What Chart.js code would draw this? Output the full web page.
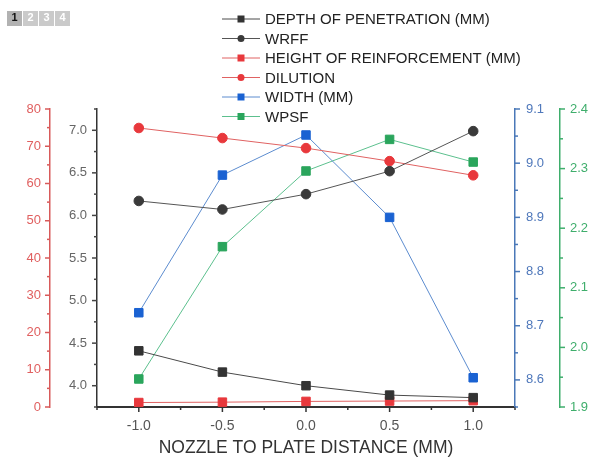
<!DOCTYPE html>
<html>
<head>
<meta charset="utf-8">
<title>Nozzle to plate distance</title>
<script src="https://cdn.jsdelivr.net/npm/chart.js@4.4.0/dist/chart.umd.min.js"></script>
<style>
  html, body { margin: 0; padding: 0; background: #fff; }
  #wrap { position: relative; width: 601px; height: 459px; }
  #pages { position: absolute; left: 7px; top: 11px; display: flex; gap: 1px; z-index: 2; }
  #pages span {
    width: 15px; height: 15px; line-height: 15px; text-align: center;
    background: #cacaca; color: #fff;
    font: bold 11px 'Liberation Sans', Arial, sans-serif;
  }
  #pages span.on { background: #b2b2b2; color: #111; }
</style>
</head>
<body>
<div id="wrap">
  <div id="pages"><span class="on">1</span><span>2</span><span>3</span><span>4</span></div>
  <canvas id="chart" width="601" height="459"></canvas>
</div>
<script>
// Nozzle to plate distance (mm)
const distances = [-1.0, -0.5, 0.0, 0.5, 1.0];

// Measured responses
const depthOfPenetration = [4.41, 4.16, 4.00, 3.89, 3.86];
const wrff = [6.17, 6.07, 6.25, 6.52, 6.99];
const heightOfReinforcement = [1.2, 1.3, 1.5, 1.6, 1.7];
const dilution = [74.9, 72.2, 69.5, 66.0, 62.2];
const beadWidth = [8.724, 8.978, 9.052, 8.900, 8.604];
const wpsf = [1.947, 2.169, 2.296, 2.349, 2.311];

// Labelled ticks for each axis
const distanceTicks = [-1.0, -0.5, 0.0, 0.5, 1.0];
const dilutionTicks = [0, 10, 20, 30, 40, 50, 60, 70, 80];
const depthTicks = [4.0, 4.5, 5.0, 5.5, 6.0, 6.5, 7.0];
const widthTicks = [8.6, 8.7, 8.8, 8.9, 9.0, 9.1];
const wpsfTicks = [1.9, 2.0, 2.1, 2.2, 2.3, 2.4];

const FONT = "'Liberation Sans', Arial, sans-serif";

function points(values) {
    return distances.map((x, i) => ({ x: x, y: values[i] }));
}

function fixedTicks(values) {
    return scale => { scale.ticks = values.map(v => ({ value: v })); };
}

/**
 * One vertical axis: fixed width, coloured spine, no grid
 */
function yAxis(position, weight, min, max, values, spine, label, width, padding, decimals) {
    return {
        type: 'linear',
        position: position,
        weight: weight,
        min: min,
        max: max,
        afterBuildTicks: fixedTicks(values),
        afterFit: scale => { scale.width = width; },
        grid: { display: false, drawOnChartArea: false, drawTicks: false },
        border: { display: true, color: spine, width: 1.5 },
        ticks: {
            autoSkip: false,
            color: label,
            padding: padding,
            font: { family: FONT, size: 13 },
            callback: v => Number(v).toFixed(decimals)
        }
    };
}

// Major / minor tick marks drawn outside each spine
const TICK_SPECS = [
    { id: 'x', major: distanceTicks, step: 0.25, color: '#333', side: 'bottom' },
    { id: 'yDilution', major: dilutionTicks, step: 5, color: '#d85a5a', side: 'left' },
    { id: 'yDepth', major: depthTicks, step: 0.25, color: '#444', side: 'left' },
    { id: 'yWidth', major: widthTicks, step: 0.05, color: '#4a78b8', side: 'right' },
    { id: 'yWpsf', major: wpsfTicks, step: 0.05, color: '#3fae6c', side: 'right' }
];

const tickMarks = {
    id: 'tickMarks',
    beforeDatasetsDraw(chart) {
        const ctx = chart.ctx;
        ctx.save();
        ctx.lineWidth = 1.5;
        TICK_SPECS.forEach(spec => {
            const scale = chart.scales[spec.id];
            const n = Math.round((scale.max - scale.min) / spec.step);
            ctx.strokeStyle = spec.color;
            for (let i = 0; i <= n; i++) {
                const v = scale.min + i * spec.step;
                const isMajor = spec.major.some(m => Math.abs(m - v) < spec.step / 10);
                const len = isMajor ? 5 : 3;
                const p = scale.getPixelForValue(v);
                ctx.beginPath();
                if (spec.side === 'bottom') {
                    ctx.moveTo(p, scale.top);
                    ctx.lineTo(p, scale.top + len);
                } else if (spec.side === 'left') {
                    ctx.moveTo(scale.right, p);
                    ctx.lineTo(scale.right - len, p);
                } else {
                    ctx.moveTo(scale.left, p);
                    ctx.lineTo(scale.left + len, p);
                }
                ctx.stroke();
            }
        });
        ctx.restore();
    }
};

// Legend in the upper middle, overlapping the plot
const legendBox = {
    id: 'legendBox',
    afterDraw(chart) {
        const ctx = chart.ctx;
        ctx.save();
        chart.data.datasets.forEach((ds, i) => {
            const y = 19 + i * 19.5;
            ctx.strokeStyle = ds.borderColor;
            ctx.lineWidth = 1;
            ctx.beginPath();
            ctx.moveTo(222, y);
            ctx.lineTo(260, y);
            ctx.stroke();
            ctx.fillStyle = ds.pointBackgroundColor;
            ctx.beginPath();
            if (ds.pointStyle === 'rect') {
                ctx.rect(237.5, y - 3.5, 7, 7);
            } else {
                ctx.arc(241, y, 3.5, 0, Math.PI * 2);
            }
            ctx.fill();
            ctx.fillStyle = '#222';
            ctx.font = '15px ' + FONT;
            ctx.textBaseline = 'middle';
            ctx.fillText(ds.label, 265, y + 1);
        });
        ctx.restore();
    }
};

function series(label, values, axis, line, fill, style) {
    return {
        label: label,
        data: points(values),
        yAxisID: axis,
        borderColor: line,
        borderWidth: 1,
        pointStyle: style,
        pointRadius: style === 'rect' ? 6 : 4.8,
        pointBackgroundColor: fill,
        pointBorderColor: fill,
        pointBorderWidth: 1,
        tension: 0
    };
}

new Chart(document.getElementById('chart'), {
    type: 'line',
    data: {
        datasets: [
            series('DEPTH OF PENETRATION (MM)', depthOfPenetration, 'yDepth', '#4a4a4a', '#333333', 'rect'),
            series('WRFF', wrff, 'yDepth', '#555555', '#3a3a3a', 'circle'),
            series('HEIGHT OF REINFORCEMENT (MM)', heightOfReinforcement, 'yDilution', '#e06262', '#e8383c', 'rect'),
            series('DILUTION', dilution, 'yDilution', '#e06262', '#e8383c', 'circle'),
            series('WIDTH (MM)', beadWidth, 'yWidth', '#5c8ccf', '#1a62d2', 'rect'),
            series('WPSF', wpsf, 'yWpsf', '#5cc08e', '#2aa55c', 'rect')
        ]
    },
    options: {
        responsive: false,
        animation: false,
        layout: { padding: { top: 109, left: 0, right: 0, bottom: 0 } },
        plugins: {
            legend: { display: false },
            tooltip: { enabled: false }
        },
        scales: {
            x: {
                type: 'linear',
                position: 'bottom',
                min: -1.25,
                max: 1.25,
                afterBuildTicks: fixedTicks(distanceTicks),
                afterFit: scale => { scale.height = 52; },
                grid: { display: false, drawOnChartArea: false, drawTicks: false },
                border: { display: true, color: '#333', width: 2 },
                ticks: {
                    autoSkip: false,
                    maxRotation: 0,
                    color: '#555',
                    padding: 11,
                    font: { family: FONT, size: 14 },
                    callback: v => Number(v).toFixed(1)
                },
                title: {
                    display: true,
                    text: 'NOZZLE TO PLATE DISTANCE (MM)',
                    color: '#333',
                    font: { family: FONT, size: 17.5 },
                    padding: { top: 0, bottom: 0 }
                }
            },
            yDepth: yAxis('left', 0, 3.75, 7.25, depthTicks, '#333', '#666', 47, 10, 1),
            yDilution: yAxis('left', 1, 0, 80, dilutionTicks, '#d85a5a', '#e06060', 50, 9, 0),
            yWidth: yAxis('right', 0, 8.55, 9.1, widthTicks, '#4a78b8', '#4f78bb', 45, 11, 1),
            yWpsf: yAxis('right', 1, 1.9, 2.4, wpsfTicks, '#3fae6c', '#3fae6c', 41, 10, 1)
        }
    },
    plugins: [tickMarks, legendBox]
});
</script>
</body>
</html>
